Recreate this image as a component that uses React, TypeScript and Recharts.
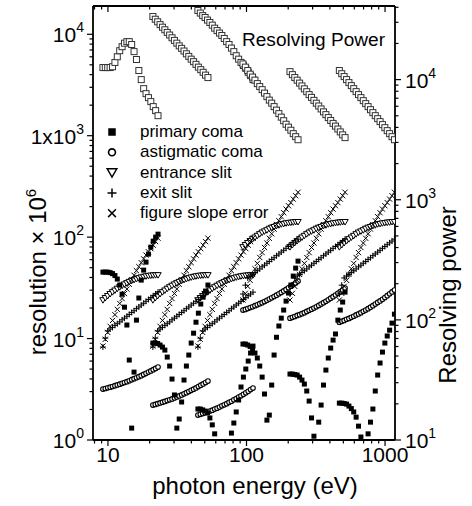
import React from 'react';
import { ScatterChart, Scatter, XAxis, YAxis } from 'recharts';

// page has an 8px default margin; the chart is laid out against the window edge
if (typeof document !== 'undefined') document.body.style.margin = '0';

const FONT = '"Liberation Sans", Arial, Helvetica, sans-serif';

// ---------------------------------------------------------------------------
// Data. Six grating settings, each sampled on its own photon-energy grid (eV).
// ---------------------------------------------------------------------------
const eSeg1 = [9.2, 9.57, 9.96, 10.37, 10.79, 11.23, 11.68, 12.16, 12.65, 13.16, 13.7, 14.25, 14.83, 15.43, 16.06, 16.71, 17.39, 18.1, 18.83, 19.6, 20.39, 21.22, 22.08, 22.98];
const eSeg2 = [21.1, 21.96, 22.85, 23.78, 24.74, 25.75, 26.79, 27.88, 29.01, 30.19, 31.41, 32.69, 34.02, 35.4, 36.83, 38.33, 39.88, 41.5, 43.19, 44.94, 46.76, 48.66, 50.64, 52.69];
const eSeg3 = [44.6, 46.41, 48.29, 50.26, 52.3, 54.42, 56.63, 58.93, 61.32, 63.81, 66.4, 69.1, 71.9, 74.82, 77.86, 81.02, 84.31, 87.73, 91.29, 95.0, 98.86, 102.9, 107.0, 111.4];
const eSeg4 = [94.3, 98.13, 102.1, 106.3, 110.6, 115.1, 119.7, 124.6, 129.7, 134.9, 140.4, 146.1, 152.0, 158.2, 164.6, 171.3, 178.3, 185.5, 193.0, 200.9, 209.0, 217.5, 226.4, 235.5];
const eSeg5 = [206, 214.4, 223.1, 232.1, 241.6, 251.4, 261.6, 272.2, 283.2, 294.7, 306.7, 319.2, 332.1, 345.6, 359.6, 374.2, 389.4, 405.2, 421.7, 438.8, 456.6, 475.2, 494.5, 514.5];
const eSeg6 = [468, 487, 506.8, 527.4, 548.8, 571.1, 594.2, 618.4, 643.5, 669.6, 696.8, 725.1, 754.5, 785.2, 817, 850.2, 884.7, 920.6, 958, 996.9, 1037, 1079, 1123, 1169];

// resolving power (right axis)
const rp1 = [12600, 12600, 12600, 12600, 12800, 13900, 15500, 17400, 18800, 20100, 20700, 20700, 19600, 17100, 14700, 11900, 10000, 8410, 7640, 7080, 6560, 5960, 5520, 5010];
const rp2 = [33500, 31800, 30300, 28700, 27300, 26000, 24700, 23500, 22300, 21200, 20100, 19100, 18200, 17300, 16400, 15600, 14800, 14100, 13400, 12700, 12100, 11500, 10900, 10400];
const rp3 = [37600, 35800, 34100, 32900, 31300, 29900, 28400, 26800, 25600, 24400, 23300, 22000, 20700, 19600, 18300, 17100, 15800, 14800, 13900, 13100, 12400, 11500, 10800, 10000];
const rp4 = [13500, 12700, 11900, 11100, 10500, 9900, 9260, 8750, 8250, 7720, 7220, 6750, 6370, 5960, 5570, 5210, 4870, 4550, 4250, 4020, 3790, 3550, 3350, 3160];
const rp5 = [11650, 11000, 10400, 9890, 9350, 8860, 8380, 7930, 7500, 7110, 6720, 6360, 6030, 5700, 5390, 5110, 4830, 4570, 4320, 4100, 3880, 3670, 3470, 3290];
const rp6 = [11900, 11200, 10600, 10000, 9440, 8910, 8410, 7940, 7500, 7080, 6680, 6310, 5960, 5620, 5310, 5010, 4730, 4470, 4220, 3980, 3760, 3550, 3350, 3160];

// primary coma (null = below the axis)
const pc1 = [45.2, 45.2, 45.2, 44.7, 43.7, 41.8, 38.6, 33.7, 27.4, 20.4, 13.6, 6.14, 1.31, 4.67, 15.2, 25.1, 37.7, 47.3, 56.7, 68.0, 79.7, 91.3, 100, 107];
const pc2 = [9.03, 9.03, 8.93, 8.63, 8.24, 7.7, 6.57, 5.36, 3.99, 2.78, 1.31, 1.61, 2.37, 3.9, 5.36, 6.88, 9.03, 11.3, 14.5, 17.8, 21.9, 25.6, 29.4, 33.7];
const pc3 = [2.02, 2.02, 1.98, 1.93, 1.85, 1.65, 1.41, 1.15, null, null, null, null, null, null, 1.17, 1.47, 1.89, 2.48, 3.33, 4.17, 5.01, 6.0, 7.2, 8.43];
const pc4 = [8.83, 8.83, 8.63, 8.34, 7.88, 7.2, 6.43, 5.36, 4.17, 2.84, 1.57, 1.76, 3.48, 6.88, 10.3, 13.3, 15.9, 19.1, 23.4, 28.1, 33.7, 41.3, 49.5, 58.0];
const pc5 = [4.47, 4.47, 4.42, 4.37, 4.17, 3.9, 3.56, 3.04, 2.42, 1.65, 1.09, null, 1.5, 2.21, 3.48, 4.89, 6.43, 8.06, 9.66, 11.1, 15.2, 19.1, 22.9, 28.7];
const pc6 = [2.31, 2.31, 2.29, 2.26, 2.16, 2.04, 1.89, 1.68, 1.37, 1.07, null, null, 1.15, 1.5, 2.02, 3.04, 4.37, 5.74, 7.36, 9.03, 10.6, 12.1, 14.2, 17.4];

// astigmatic coma
const ac1 = [3.18, 3.22, 3.27, 3.32, 3.37, 3.43, 3.49, 3.55, 3.62, 3.69, 3.76, 3.84, 3.93, 4.02, 4.11, 4.21, 4.31, 4.43, 4.54, 4.67, 4.8, 4.94, 5.08, 5.24];
const ac2 = [2.21, 2.24, 2.28, 2.32, 2.36, 2.4, 2.45, 2.49, 2.54, 2.6, 2.66, 2.72, 2.78, 2.85, 2.93, 3.0, 3.09, 3.17, 3.26, 3.36, 3.47, 3.57, 3.69, 3.81];
const ac3 = [1.76, 1.79, 1.82, 1.86, 1.89, 1.93, 1.97, 2.02, 2.06, 2.11, 2.17, 2.22, 2.28, 2.35, 2.41, 2.49, 2.56, 2.65, 2.73, 2.82, 2.92, 3.02, 3.14, 3.25];
const ac4 = [19.1, 19.4, 19.8, 20.2, 20.6, 21.1, 21.5, 22.1, 22.6, 23.2, 23.8, 24.5, 25.2, 26.0, 26.8, 27.6, 28.5, 29.5, 30.5, 31.7, 32.8, 34.1, 35.4, 36.9];
const ac5 = [15.9, 16.2, 16.5, 16.9, 17.2, 17.6, 18.0, 18.5, 19.0, 19.5, 20.0, 20.6, 21.2, 21.9, 22.6, 23.3, 24.1, 25.0, 25.9, 26.9, 27.9, 29.0, 30.2, 31.5];
const ac6 = [14.5, 14.8, 15.1, 15.5, 15.8, 16.2, 16.6, 17.1, 17.5, 18.0, 18.6, 19.1, 19.7, 20.4, 21.1, 21.9, 22.7, 23.5, 24.4, 25.4, 26.5, 27.6, 28.8, 30.1];

// entrance slit: same shape for the three low and the three high settings
const esLow = [23.9, 25.1, 26.3, 27.5, 28.7, 29.8, 31.0, 32.1, 33.2, 34.2, 35.2, 36.2, 37.1, 37.9, 38.7, 39.4, 40.1, 40.6, 41.1, 41.5, 41.8, 42.0, 42.2, 42.2];
const esHigh = [79.7, 83.6, 87.6, 91.5, 95.5, 99.2, 103, 107, 111, 114, 117, 121, 124, 126, 129, 131, 134, 135, 137, 138, 139, 140, 141, 141];

// exit slit
const exLow = [8.25, 10.1, 11.9, 12.4, 12.9, 13.5, 14.0, 14.6, 15.3, 15.9, 16.6, 17.3, 18.1, 18.8, 19.7, 20.5, 21.4, 22.3, 23.3, 24.3, 25.3, 26.4, 27.5, 28.7];
const exHigh = [27.5, 33.6, 39.6, 41.3, 42.9, 44.9, 46.6, 48.6, 50.9, 52.9, 55.3, 57.6, 60.3, 62.6, 65.6, 68.2, 71.2, 74.2, 77.6, 80.9, 84.2, 87.9, 91.5, 95.5];

// figure slope error
const fsLow = [8.44, 9.84, 11.5, 13.2, 15.1, 17.2, 19.4, 22.2, 24.8, 27.8, 30.8, 34.3, 38.0, 42.1, 46.7, 51.1, 56.0, 61.1, 66.5, 71.7, 77.0, 83.4, 90.3, 97.7];
const fsHigh = [24.0, 27.9, 32.7, 37.5, 42.9, 48.8, 55.1, 63.0, 70.4, 79.0, 87.5, 97.4, 108, 120, 133, 145, 159, 174, 189, 204, 219, 237, 256, 277];

const energyGrids = [eSeg1, eSeg2, eSeg3, eSeg4, eSeg5, eSeg6];
const build = (ys: (number | null)[][]) =>
  energyGrids
    .flatMap((xs, i) => xs.map((x, j) => ({ x, y: ys[i][j] })))
    .filter((p) => p.y != null);

const resolvingPower = build([rp1, rp2, rp3, rp4, rp5, rp6]);
const primaryComa = build([pc1, pc2, pc3, pc4, pc5, pc6]);
const astigComa = build([ac1, ac2, ac3, ac4, ac5, ac6]);
const entranceSlit = build([esLow, esLow, esLow, esHigh, esHigh, esHigh]);
const exitSlit = build([exLow, exLow, exLow, exHigh, exHigh, exHigh]);
const slopeError = build([fsLow, fsLow, fsLow, fsHigh, fsHigh, fsHigh]);

// axes
const xDomain = [7.8, 1180];
const leftDomain = [1, 19000];
const rightDomain = [10, 41000];
const xTicks = [8, 9, 10, 20, 30, 40, 50, 60, 70, 80, 90, 100, 200, 300, 400, 500, 600, 700, 800, 900, 1000];
const xLabels: Record<number, string> = { 10: '10', 100: '100', 1000: '1000' };
const leftTicks = [1, 2, 3, 4, 5, 6, 7, 8, 9, 10, 20, 30, 40, 50, 60, 70, 80, 90, 100, 200, 300, 400, 500, 600, 700, 800, 900, 1000, 2000, 3000, 4000, 5000, 6000, 7000, 8000, 9000, 10000];
const leftLabels: Record<number, [string, string]> = { 1: ['10', '0'], 10: ['10', '1'], 100: ['10', '2'], 1000: ['1x10', '3'], 10000: ['10', '4'] };
const rightTicks = [10, 20, 30, 40, 50, 60, 70, 80, 90, 100, 200, 300, 400, 500, 600, 700, 800, 900, 1000, 2000, 3000, 4000, 5000, 6000, 7000, 8000, 9000, 10000, 20000, 30000, 40000];
const rightLabels: Record<number, [string, string]> = { 10: ['10', '1'], 100: ['10', '2'], 1000: ['10', '3'], 10000: ['10', '4'] };

const legendItems = ['primary coma', 'astigmatic coma', 'entrance slit', 'exit slit', 'figure slope error'];

// ---------------------------------------------------------------------------
// marker shapes
// ---------------------------------------------------------------------------
const OpenSquare = ({ cx, cy }: any) => (
  <rect x={cx - 3} y={cy - 3} width={6} height={6} fill="#fff" stroke="#333" strokeWidth={1} />
);
const FilledSquare = ({ cx, cy }: any) => (
  <rect x={cx - 2.5} y={cy - 2.5} width={5} height={5} fill="#000" />
);
const OpenCircle = ({ cx, cy }: any) => (
  <circle cx={cx} cy={cy} r={2.3} fill="#fff" stroke="#000" strokeWidth={1.1} />
);
const DownTriangle = ({ cx, cy }: any) => (
  <polygon points={`${cx - 3.2},${cy - 2.5} ${cx + 3.2},${cy - 2.5} ${cx},${cy + 3}`} fill="#fff" stroke="#000" strokeWidth={1} />
);
const Plus = ({ cx, cy }: any) => (
  <path d={`M${cx - 3},${cy}H${cx + 3}M${cx},${cy - 3}V${cy + 3}`} stroke="#000" strokeWidth={1} />
);
const Cross = ({ cx, cy }: any) => (
  <path d={`M${cx - 2.6},${cy - 2.6}L${cx + 2.6},${cy + 2.6}M${cx - 2.6},${cy + 2.6}L${cx + 2.6},${cy - 2.6}`} stroke="#000" strokeWidth={1} />
);

// ---------------------------------------------------------------------------
// ticks (drawn by hand so minor ticks stay unlabeled)
// ---------------------------------------------------------------------------
const BottomTick = ({ x, y, payload }: any) => {
  const lab = xLabels[payload.value];
  return (
    <g>
      <line x1={x} x2={x} y1={y} y2={y + (lab ? 6 : 3.5)} stroke="#000" strokeWidth={1.2} />
      {lab && (
        <text x={x} y={y + 22} textAnchor="middle" fontSize={21} fontFamily={FONT} fill="#000">{lab}</text>
      )}
    </g>
  );
};

const TopTick = ({ x, y, payload }: any) => {
  const major = !!xLabels[payload.value];
  return <line x1={x} x2={x} y1={y} y2={y + (major ? 6 : 3.5)} stroke="#000" strokeWidth={1.2} />;
};

const LeftTick = ({ x, y, payload }: any) => {
  const lab = leftLabels[payload.value];
  return (
    <g>
      <line x1={x - (lab ? 6 : 3.5)} x2={x} y1={y} y2={y} stroke="#000" strokeWidth={1.2} />
      {lab && (
        <text x={x - 9} y={y + 8} textAnchor="end" fontSize={21} fontFamily={FONT} fill="#000">
          {lab[0]}
          <tspan dy={-10} fontSize={14}>{lab[1]}</tspan>
        </text>
      )}
    </g>
  );
};

const RightTick = ({ x, y, payload }: any) => {
  const lab = rightLabels[payload.value];
  return (
    <g>
      <line x1={x} x2={x + (lab ? 6 : 3.5)} y1={y} y2={y} stroke="#000" strokeWidth={1.2} />
      {lab && (
        <text x={x + 10} y={y + 8} textAnchor="start" fontSize={21} fontFamily={FONT} fill="#000">
          {lab[0]}
          <tspan dy={-10} fontSize={14}>{lab[1]}</tspan>
        </text>
      )}
    </g>
  );
};

const legendShapes = [FilledSquare, OpenCircle, DownTriangle, Plus, Cross];

export default function App() {
  const frame = { stroke: '#000', strokeWidth: 1.8 };
  return (
    <div style={{ position: 'relative', width: 472, height: 506, background: '#fff' }}>
      <ScatterChart width={472} height={506} margin={{ top: 0, right: 0, bottom: 0, left: 0 }}>
        <XAxis xAxisId="b" dataKey="x" type="number" scale="log" domain={xDomain} allowDataOverflow
          ticks={xTicks} interval={0} tick={<BottomTick />} tickLine={false} tickSize={0} tickMargin={0}
          height={66} axisLine={frame} />
        <XAxis xAxisId="t" orientation="top" dataKey="x" type="number" scale="log" domain={xDomain} allowDataOverflow
          ticks={xTicks} interval={0} tick={<TopTick />} tickLine={false} tickSize={0} tickMargin={0}
          height={6} axisLine={frame} />
        <YAxis yAxisId="l" dataKey="y" type="number" scale="log" domain={leftDomain} allowDataOverflow
          ticks={leftTicks} interval={0} tick={<LeftTick />} tickLine={false} tickSize={0} tickMargin={0}
          width={93} axisLine={frame} />
        <YAxis yAxisId="r" orientation="right" dataKey="y" type="number" scale="log" domain={rightDomain} allowDataOverflow
          ticks={rightTicks} interval={0} tick={<RightTick />} tickLine={false} tickSize={0} tickMargin={0}
          width={77} axisLine={frame} />

        <Scatter name="astigmatic coma" data={astigComa} xAxisId="b" yAxisId="l" shape={OpenCircle} isAnimationActive={false} />
        <Scatter name="entrance slit" data={entranceSlit} xAxisId="b" yAxisId="l" shape={DownTriangle} isAnimationActive={false} />
        <Scatter name="exit slit" data={exitSlit} xAxisId="b" yAxisId="l" shape={Plus} isAnimationActive={false} />
        <Scatter name="figure slope error" data={slopeError} xAxisId="b" yAxisId="l" shape={Cross} isAnimationActive={false} />
        <Scatter name="primary coma" data={primaryComa} xAxisId="b" yAxisId="l" shape={FilledSquare} isAnimationActive={false} />
        <Scatter name="Resolving Power" data={resolvingPower} xAxisId="b" yAxisId="r" shape={OpenSquare} isAnimationActive={false} />
      </ScatterChart>

      {/* titles and legend */}
      <svg width={472} height={506} style={{ position: 'absolute', left: 0, top: 0, pointerEvents: 'none' }}
        fontFamily={FONT} fill="#000">
        <text x={242} y={46} fontSize={18} textLength={143} lengthAdjust="spacingAndGlyphs">Resolving Power</text>
        {legendItems.map((name, i) => {
          const cy = 132 + i * 20.3;
          const Shape = legendShapes[i];
          return (
            <g key={name}>
              <g transform={`translate(${112} ${cy}) scale(1.5) translate(${-112} ${-cy})`}>
                <Shape cx={112} cy={cy} />
              </g>
              <text x={140} y={cy + 5} fontSize={17}>{name}</text>
            </g>
          );
        })}
        <text x={255} y={494} fontSize={24} textAnchor="middle">photon energy (eV)</text>
        <text transform="translate(46 272) rotate(-90)" fontSize={24} textAnchor="middle">
          resolution × 10<tspan dy={-10} fontSize={15}>6</tspan>
        </text>
        <text transform="translate(456 295) rotate(-90)" fontSize={24} textAnchor="middle">Resolving power</text>
      </svg>
    </div>
  );
}
